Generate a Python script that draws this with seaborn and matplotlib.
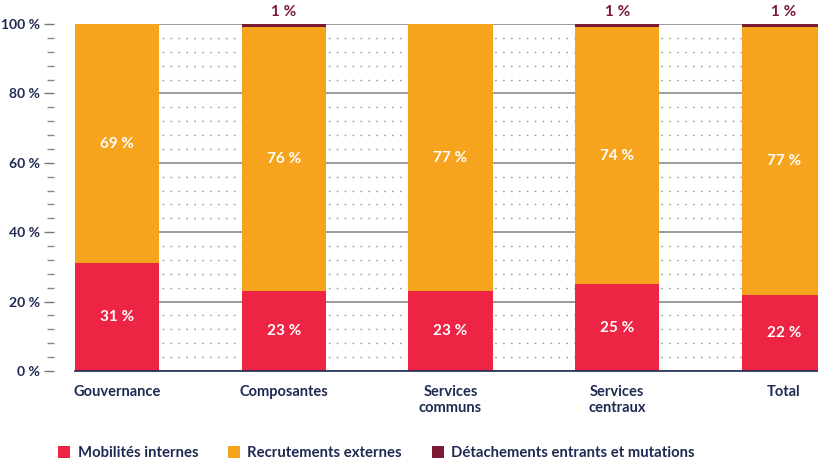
import numpy as np
import pandas as pd
import matplotlib.pyplot as plt
import seaborn as sns
from matplotlib.ticker import MultipleLocator, FuncFormatter
from matplotlib.patches import Patch

categories = ["Gouvernance", "Composantes", "Services\ncommuns", "Services\ncentraux", "Total"]
mobilites = [31, 23, 23, 25, 22]
recrutements = [69, 76, 77, 74, 77]
detachements = [0, 1, 0, 1, 1]

series = ["Mobilités internes", "Recrutements externes", "Détachements entrants et mutations"]
colors = ["#EE2445", "#F6A41E", "#7A1A33"]
navy = "#1E2A52"

df = pd.DataFrame({"cat": categories, "mob": mobilites, "rec": recrutements, "det": detachements})

sns.set_style("white")
plt.rcParams["font.family"] = ["Lato", "DejaVu Sans"]

fig = plt.figure(figsize=(8.18, 4.65), dpi=100)
ax = fig.add_axes([75 / 818, 1 - 371 / 465, 743 / 818, 347 / 465])

sns.barplot(data=df, x="cat", y="mob", color=colors[0], width=0.504, ax=ax,
            saturation=1, zorder=3, linewidth=0)
sns.barplot(data=df, x="cat", y="rec", bottom=df["mob"], color=colors[1], width=0.504,
            ax=ax, saturation=1, zorder=3, linewidth=0)
sns.barplot(data=df, x="cat", y="det", bottom=df["mob"] + df["rec"], color=colors[2],
            width=0.504, ax=ax, saturation=1, zorder=3, linewidth=0)

ax.set_xlim(-0.252, 4.204)
ax.set_ylim(0, 100)
ax.set_xlabel("")
ax.set_ylabel("")

# grid
ax.yaxis.set_major_locator(MultipleLocator(20))
ax.yaxis.set_minor_locator(MultipleLocator(4))
ax.yaxis.set_major_formatter(FuncFormatter(lambda v, p: f"{int(v)} %"))
ax.grid(axis="y", which="major", color="#8a8a8a", linewidth=1.2, zorder=0)
ax.grid(axis="y", which="minor", color="#9a9a9a", linestyle=(0, (1.2, 4.5)), linewidth=1, zorder=0)
ax.set_axisbelow(True)

for s in ["top", "right"]:
    ax.spines[s].set_visible(False)
ax.spines["left"].set_position(("outward", 15))
ax.spines["left"].set_color("none")
ax.spines["bottom"].set_color(navy)
ax.spines["bottom"].set_linewidth(1.2)
ax.spines["bottom"].set_zorder(4)

ax.tick_params(axis="y", which="both", left=True)
ax.tick_params(axis="y", which="major", length=7, width=1, color="#777777",
               labelsize=10, labelcolor=navy, pad=3)
ax.tick_params(axis="y", which="minor", length=5, width=1, color="#888888")
ax.tick_params(axis="x", length=0, labelsize=10.5, labelcolor=navy, pad=10)
for lab in ax.get_yticklabels() + ax.get_xticklabels():
    lab.set_fontweight("bold")

# value labels
for i in range(len(categories)):
    ax.text(i, mobilites[i] / 2, f"{mobilites[i]} %", ha="center", va="center",
            color="white", fontsize=11, fontweight="bold", zorder=5)
    ax.text(i, mobilites[i] + recrutements[i] / 2, f"{recrutements[i]} %", ha="center",
            va="center", color="white", fontsize=11, fontweight="bold", zorder=5)
    if detachements[i] > 0:
        ax.text(i, 101.5, f"{detachements[i]} %", ha="center", va="bottom",
                color=colors[2], fontsize=11, fontweight="bold", clip_on=False)

handles = [Patch(facecolor=c, edgecolor="none") for c in colors]
fig.legend(handles, series, loc="center left", bbox_to_anchor=(45 / 818, 1 - 453 / 465),
           ncol=3, frameon=False, handlelength=0.8, handleheight=0.8, handletextpad=0.5,
           columnspacing=2.0, prop={"size": 10.7, "weight": "bold"}, labelcolor=navy)

fig.savefig("out.png", dpi=100)
